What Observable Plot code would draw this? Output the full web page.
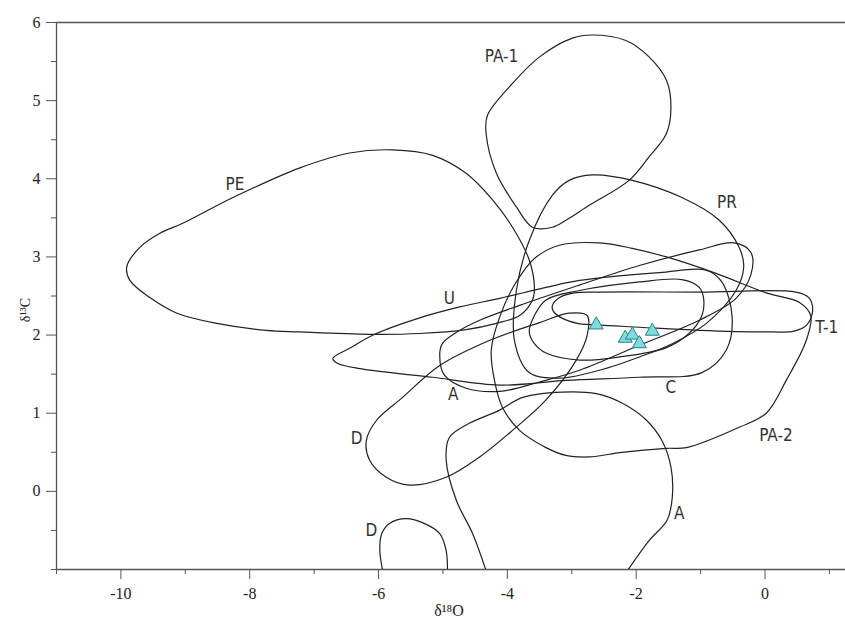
<!DOCTYPE html>
<html><head><meta charset="utf-8">
<script src="https://cdn.jsdelivr.net/npm/d3@7"></script>
<script src="https://cdn.jsdelivr.net/npm/@observablehq/plot@0.6"></script>
<style>body{margin:0;background:#fff}</style>
</head><body><div id="chart"></div>
<script>
// closed contours (δ18O, δ13C)
const PE = [[-9.91,2.87],[-9.86,2.70],[-9.55,2.48],[-9.13,2.28],[-8.51,2.15],[-7.74,2.06],[-7.22,2.04],[-6.14,2.01],[-5.36,2.02],[-4.64,2.07],[-4.17,2.15],[-3.81,2.25],[-3.61,2.45],[-3.58,2.61],[-3.66,2.96],[-3.92,3.38],[-4.23,3.73],[-4.64,4.07],[-5.16,4.30],[-5.78,4.37],[-6.45,4.33],[-7.22,4.14],[-8.26,3.76],[-9.04,3.43],[-9.40,3.30],[-9.71,3.12]];
const PA1 = [[-2.68,5.84],[-2.99,5.80],[-3.50,5.56],[-3.92,5.22],[-4.31,4.81],[-4.33,4.58],[-4.17,4.07],[-3.86,3.64],[-3.61,3.38],[-3.30,3.38],[-3.09,3.47],[-2.73,3.66],[-2.11,3.98],[-1.80,4.28],[-1.53,4.58],[-1.46,4.92],[-1.53,5.26],[-1.80,5.56],[-2.16,5.77]];
const PR = [[-2.68,4.05],[-2.06,3.98],[-1.29,3.76],[-0.71,3.47],[-0.40,3.12],[-0.33,2.87],[-0.45,2.57],[-0.91,2.15],[-1.44,1.89],[-1.95,1.72],[-2.57,1.55],[-3.19,1.45],[-3.66,1.52],[-3.89,1.93],[-3.86,2.57],[-3.66,3.21],[-3.30,3.79],[-3.04,3.98]];
const U = [[-6.71,1.70],[-6.45,1.83],[-6.06,2.01],[-5.36,2.22],[-4.74,2.36],[-4.12,2.47],[-3.40,2.61],[-2.88,2.70],[-1.64,2.80],[-0.91,2.83],[-0.67,2.68],[-0.51,2.23],[-0.60,1.81],[-0.98,1.52],[-1.95,1.46],[-3.09,1.42],[-4.12,1.36],[-5.16,1.46],[-6.29,1.57],[-6.64,1.64]];
const T1 = [[-3.30,2.38],[-3.19,2.48],[-2.96,2.54],[-2.57,2.55],[-1.02,2.55],[0.48,2.55],[0.68,2.48],[0.74,2.32],[0.65,2.13],[0.45,2.05],[0.11,2.04],[-1.02,2.06],[-1.95,2.10],[-2.62,2.13],[-2.91,2.15],[-3.16,2.22],[-3.29,2.31]];
const C = [[-3.66,2.04],[-3.58,2.25],[-3.40,2.45],[-2.88,2.57],[-1.95,2.68],[-1.29,2.71],[-1.02,2.61],[-0.95,2.45],[-0.99,2.23],[-1.18,2.02],[-1.53,1.84],[-2.26,1.72],[-2.88,1.68],[-3.40,1.77],[-3.58,1.89]];
const A1 = [[-5.05,1.74],[-4.98,1.49],[-4.64,1.32],[-4.12,1.28],[-3.50,1.40],[-2.88,1.55],[-1.95,1.87],[-1.02,2.19],[-0.45,2.47],[-0.22,2.77],[-0.22,3.06],[-0.48,3.18],[-1.02,3.09],[-1.95,2.89],[-2.88,2.64],[-3.81,2.38],[-4.43,2.19],[-4.82,2.02],[-5.01,1.89]];
const PA2 = [[-3.19,3.15],[-2.57,3.18],[-2.06,3.11],[-1.53,3.00],[-0.76,2.79],[0.02,2.54],[0.53,2.42],[0.71,2.25],[0.64,1.93],[0.33,1.42],[0.02,1.00],[-0.40,0.82],[-1.22,0.56],[-1.53,0.55],[-2.22,0.50],[-2.73,0.44],[-3.09,0.46],[-3.40,0.56],[-3.81,0.78],[-4.08,1.08],[-4.20,1.42],[-4.25,1.81],[-4.12,2.23],[-3.89,2.64],[-3.58,2.98]];
const D1 = [[-2.76,2.25],[-2.76,2.00],[-2.93,1.68],[-3.40,1.17],[-3.92,0.78],[-4.43,0.44],[-4.95,0.18],[-5.52,0.08],[-5.88,0.18],[-6.14,0.40],[-6.19,0.65],[-6.03,0.91],[-5.63,1.20],[-5.05,1.61],[-4.28,1.93],[-3.50,2.16],[-3.04,2.28]];
// open contours cut by the lower axis
const A2 = [[-4.28,-1.14],[-4.54,-0.54],[-4.79,-0.12],[-4.95,0.40],[-4.90,0.69],[-4.64,0.85],[-4.12,1.04],[-3.77,1.20],[-3.15,1.27],[-2.62,1.25],[-2.22,1.13],[-1.84,0.91],[-1.60,0.65],[-1.46,0.31],[-1.44,-0.08],[-1.52,-0.37],[-1.80,-0.63],[-2.19,-1.08]];
const D2 = [[-5.92,-1.08],[-5.98,-0.76],[-5.95,-0.54],[-5.83,-0.41],[-5.57,-0.35],[-5.32,-0.40],[-5.05,-0.54],[-4.95,-0.76],[-4.93,-1.08]];
// samples
const sampleX = [-2.62,-2.17,-2.06,-1.95,-1.75];
const sampleY = [2.13,1.96,2.00,1.89,2.05];
// labels
const labelText = ["PA-1","PE","PR","U","T-1","C","A","D","PA-2","A","D"];
const labelX = [-4.09,-8.23,-0.59,-4.90,0.96,-1.46,-4.84,-6.34,0.17,-1.33,-6.11];
const labelY = [5.56,3.92,3.70,2.47,2.10,1.33,1.24,0.68,0.72,-0.28,-0.50];
const xMajor = [-10,-8,-6,-4,-2,0];
const xMinor = [-11,-9,-7,-5,-3,-1,1];
const yMajor = [0,1,2,3,4,5,6];
const yMinor = [-1,-0.5,0.5,1.5,2.5,3.5,4.5,5.5];

const closed = [["PE",PE],["PA-1",PA1],["PR",PR],["U",U],["T-1",T1],["C",C],["A",A1],["PA-2",PA2],["D",D1]]
  .flatMap(([id,pts]) => pts.map(([x,y]) => ({id,x,y})));
const open = [["A2",A2],["D2",D2]].flatMap(([id,pts]) => pts.map(([x,y]) => ({id,x,y})));
const samples = sampleX.map((x,i)=>({x,y:sampleY[i]}));
const labels = labelText.map((t,i)=>({t,x:labelX[i],y:labelY[i]}));

const serif = "'Liberation Serif','Times New Roman',serif";
const sans = "'Liberation Sans Narrow','DejaVu Sans Condensed',Roboto,sans-serif";
const axisColor = "#555";

const chart = Plot.plot({
  width: 845, height: 622,
  marginLeft: 56, marginRight: 0, marginTop: 22, marginBottom: 53,
  x: {domain: [-11, 1.25]},
  y: {domain: [-1, 6]},
  style: {fontFamily: serif, fontSize: "16px", color: "#222", background: "#fff"},
  marks: [
    Plot.ruleX([-11], {stroke: axisColor, strokeWidth: 1.3}),
    Plot.ruleY([-1], {stroke: axisColor, strokeWidth: 1.3}),
    Plot.ruleY([6], {stroke: axisColor, strokeWidth: 1.3}),
    Plot.axisX({ticks: xMajor, tickSize: 10, text: null, label: null, stroke: axisColor}),
    Plot.axisX({ticks: xMinor, tickSize: 5, text: null, label: null, stroke: axisColor}),
    Plot.axisY({ticks: yMajor, tickSize: 10, text: null, label: null, stroke: axisColor}),
    Plot.axisY({ticks: yMinor, tickSize: 5, text: null, label: null, stroke: axisColor}),
    Plot.text(xMajor, {x: d => d, text: d => String(d), frameAnchor: "bottom", dy: 24, lineAnchor: "middle", textAnchor: "middle", fontFamily: serif, fontSize: 16, fill: "#222"}),
    Plot.text(yMajor, {y: d => d, text: d => String(d), frameAnchor: "left", dx: -16, lineAnchor: "middle", textAnchor: "end", fontFamily: serif, fontSize: 16, fill: "#222"}),
    Plot.line(closed, {x: "x", y: "y", z: "id", curve: "catmull-rom-closed", stroke: "#222", strokeWidth: 1.2}),
    Plot.line(open, {x: "x", y: "y", z: "id", curve: "catmull-rom", stroke: "#222", strokeWidth: 1.2, clip: true}),
    Plot.dot(samples, {x: "x", y: "y", symbol: "triangle", r: 5.2, fill: "#7fdcdc", stroke: "#2f7f88", strokeWidth: 1}),
    Plot.text(labels, {x: "x", y: "y", text: "t", fontFamily: sans, fontSize: 17, fill: "#333"}),
    Plot.text(["δ¹⁸O"], {frameAnchor: "bottom", dy: 41, dx: -2, textAnchor: "middle", lineAnchor: "middle", fontFamily: serif, fontSize: 16, fill: "#222"}),
    Plot.text(["δ¹³C"], {frameAnchor: "left", dx: -31, dy: 14, rotate: -90, textAnchor: "middle", lineAnchor: "middle", fontFamily: serif, fontSize: 14, fill: "#222"})
  ]
});
document.getElementById("chart").appendChild(chart);
</script>
</body></html>
